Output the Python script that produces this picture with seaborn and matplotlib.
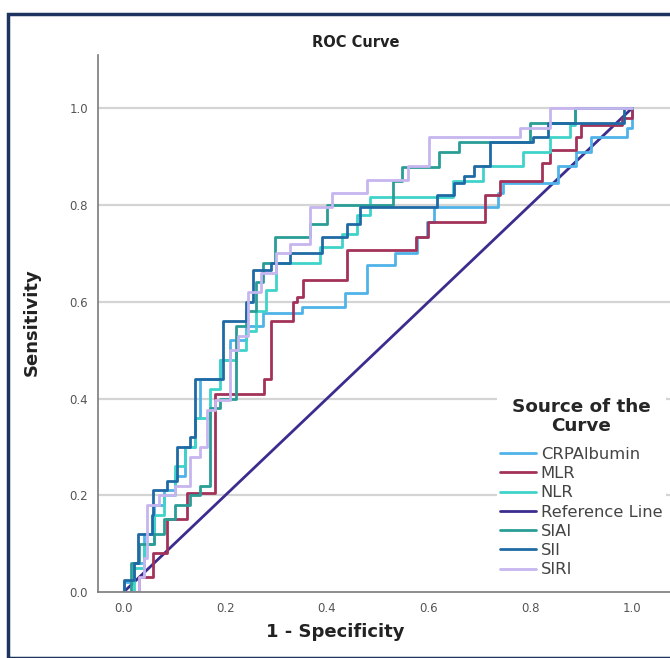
import matplotlib
matplotlib.use('Agg')
import matplotlib.pyplot as plt
import seaborn as sns
from matplotlib.patches import Rectangle

sns.set_style('white')

# ROC points (1 - specificity, sensitivity)
crp_fpr = [0, 0.00, 0.02, 0.04, 0.06, 0.08, 0.10, 0.12, 0.14, 0.15, 0.19, 0.21, 0.24, 0.275, 0.35, 0.435, 0.478,
           0.533, 0.577, 0.596, 0.61, 0.736, 0.746, 0.855, 0.89, 0.92, 0.99, 1.0]
crp_tpr = [0, 0.02, 0.06, 0.12, 0.18, 0.21, 0.24, 0.30, 0.36, 0.44, 0.48, 0.52, 0.55, 0.576, 0.59, 0.618, 0.675,
           0.70, 0.733, 0.765, 0.795, 0.824, 0.845, 0.88, 0.91, 0.94, 0.96, 1.0]

mlr_fpr = [0, 0.03, 0.057, 0.085, 0.124, 0.18, 0.277, 0.29, 0.333, 0.34, 0.352, 0.44, 0.576, 0.598, 0.71, 0.74,
           0.823, 0.838, 0.89, 0.90, 0.98, 1.0]
mlr_tpr = [0, 0.03, 0.08, 0.15, 0.205, 0.41, 0.44, 0.56, 0.60, 0.61, 0.645, 0.707, 0.733, 0.765, 0.82, 0.85,
           0.886, 0.913, 0.94, 0.965, 0.98, 1.0]

nlr_fpr = [0, 0.02, 0.04, 0.06, 0.08, 0.10, 0.12, 0.14, 0.17, 0.19, 0.22, 0.24, 0.26, 0.28, 0.30, 0.386, 0.43,
           0.46, 0.484, 0.648, 0.707, 0.786, 0.838, 0.878, 0.888, 1.0]
nlr_tpr = [0, 0.05, 0.10, 0.16, 0.20, 0.26, 0.30, 0.36, 0.42, 0.48, 0.50, 0.54, 0.58, 0.624, 0.68, 0.713, 0.74,
           0.78, 0.816, 0.85, 0.88, 0.91, 0.94, 0.965, 1.0, 1.0]

ref_fpr = [0, 1]
ref_tpr = [0, 1]

siai_fpr = [0, 0.015, 0.03, 0.06, 0.08, 0.10, 0.13, 0.15, 0.17, 0.19, 0.22, 0.24, 0.26, 0.274, 0.297, 0.366,
            0.40, 0.53, 0.547, 0.62, 0.66, 0.80, 0.888, 1.0]
siai_tpr = [0, 0.06, 0.10, 0.12, 0.15, 0.18, 0.20, 0.22, 0.38, 0.40, 0.55, 0.58, 0.64, 0.68, 0.733, 0.76,
            0.80, 0.85, 0.879, 0.91, 0.93, 0.97, 1.0, 1.0]

sii_fpr = [0, 0.0, 0.02, 0.028, 0.055, 0.057, 0.085, 0.105, 0.13, 0.14, 0.195, 0.24, 0.255, 0.29, 0.327, 0.39,
           0.44, 0.465, 0.616, 0.65, 0.67, 0.69, 0.72, 0.805, 0.835, 0.985, 1.0]
sii_tpr = [0, 0.025, 0.06, 0.12, 0.16, 0.21, 0.23, 0.30, 0.32, 0.44, 0.56, 0.60, 0.665, 0.68, 0.70, 0.733,
           0.76, 0.795, 0.82, 0.845, 0.86, 0.88, 0.93, 0.94, 0.97, 1.0, 1.0]

siri_fpr = [0, 0.03, 0.04, 0.045, 0.07, 0.10, 0.13, 0.15, 0.163, 0.18, 0.21, 0.225, 0.244, 0.27, 0.30, 0.327,
            0.366, 0.41, 0.478, 0.56, 0.60, 0.78, 0.838, 1.0]
siri_tpr = [0, 0.03, 0.07, 0.18, 0.20, 0.22, 0.28, 0.30, 0.376, 0.397, 0.50, 0.53, 0.62, 0.66, 0.70, 0.72,
            0.795, 0.824, 0.851, 0.88, 0.94, 0.96, 1.0, 1.0]

labels = ['CRPAlbumin', 'MLR', 'NLR', 'Reference Line', 'SIAI', 'SII', 'SIRI']
colors = ['#4fb3e8', '#a3325a', '#3fd3c9', '#3b2d8f', '#2a9d96', '#1f6aa5', '#c6b5ef']
curvas = [(crp_fpr, crp_tpr), (mlr_fpr, mlr_tpr), (nlr_fpr, nlr_tpr), (ref_fpr, ref_tpr),
          (siai_fpr, siai_tpr), (sii_fpr, sii_tpr), (siri_fpr, siri_tpr)]

fig = plt.figure(figsize=(6.7, 6.58), dpi=100)
ax = fig.add_axes([0.146, 0.1003, 0.854, 0.816])

# draw order: reference line under the curves
ordem = [3, 0, 1, 2, 4, 5, 6]
for i in ordem:
    fx, fy = curvas[i]
    estilo = 'default' if labels[i] == 'Reference Line' else 'steps-post'
    sns.lineplot(x=fx, y=fy, ax=ax, color=colors[i], label=labels[i], lw=2.0,
                 estimator=None, sort=False, drawstyle=estilo)

ax.set_xlim(-0.051, 1.075)
ax.set_ylim(0, 1.11)
ax.set_xticks([0, 0.2, 0.4, 0.6, 0.8, 1.0])
ax.set_yticks([0, 0.2, 0.4, 0.6, 0.8, 1.0])
ax.set_xticklabels(['0.0', '0.2', '0.4', '0.6', '0.8', '1.0'])
ax.set_yticklabels(['0.0', '0.2', '0.4', '0.6', '0.8', '1.0'])
ax.tick_params(axis='both', length=0, labelsize=8.5, labelcolor='#555555', pad=7)
for y in [0.2, 0.4, 0.6, 0.8, 1.0]:
    ax.axhline(y, color='#d4d4d4', lw=1.6, zorder=0)
ax.spines['top'].set_visible(False)
ax.spines['right'].set_visible(False)
ax.spines['left'].set_color('#7a7a7a')
ax.spines['bottom'].set_color('#7a7a7a')
ax.spines['left'].set_linewidth(1.2)
ax.spines['bottom'].set_linewidth(1.2)
ax.set_xlabel('')
ax.set_ylabel('')

fig.text(0.531, 0.935, 'ROC Curve', ha='center', va='center', fontsize=10.5, fontweight='bold', color='#222222')
fig.text(0.5, 0.04, '1 - Specificity', ha='center', va='center', fontsize=13, fontweight='bold', color='#222222')
fig.text(0.048, 0.51, 'Sensitivity', ha='center', va='center', rotation=90, fontsize=13, fontweight='bold',
         color='#222222')

handles, labs = ax.get_legend_handles_labels()
por_nome = dict(zip(labs, handles))
leg = ax.legend([por_nome[l] for l in labels], labels, loc='upper left', bbox_to_anchor=(0.729, 0.413),
                bbox_transform=fig.transFigure, frameon=True, framealpha=1, edgecolor='none',
                title='Source of the\nCurve', fontsize=11.8, handlelength=2.2, handletextpad=0.3,
                labelspacing=0.26, borderpad=0.2)
leg.get_title().set_fontweight('bold')
leg.get_title().set_fontsize(13.2)
leg.get_title().set_multialignment('center')
leg.get_title().set_linespacing(1.1)
leg._legend_box.sep = 8.5
for t in leg.get_texts():
    t.set_color('#444444')

fig.patches.append(Rectangle((8 / 670, 0), 1.2, 1 - 14 / 658, transform=fig.transFigure, fill=False,
                             edgecolor='#1d3461', lw=2.5, clip_on=False))

plt.savefig('out.png', dpi=100)
